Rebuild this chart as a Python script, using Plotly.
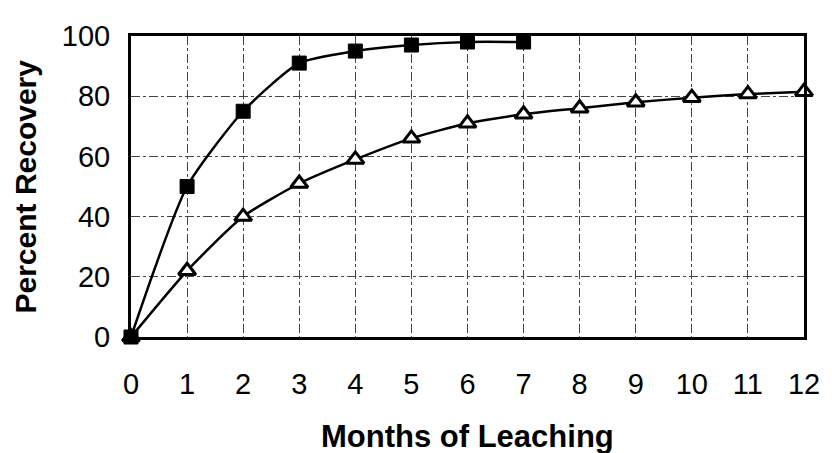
import plotly.graph_objects as go

months_sq = [0, 1, 2, 3, 4, 5, 6, 7]
recovery_sq = [0, 50, 75, 91, 95, 97, 98, 98]
months_tri = [0, 1, 2, 3, 4, 5, 6, 7, 8, 9, 10, 11, 12]
recovery_tri = [0, 22, 40, 51, 59, 66, 71, 74, 76, 78, 79.5, 80.7, 81.5]
x_ticks = list(range(0, 13))
y_ticks = [0, 20, 40, 60, 80, 100]

fig = go.Figure()
fig.add_trace(go.Scatter(
    x=months_tri, y=recovery_tri, mode="lines+markers",
    line=dict(color="black", width=2.5, shape="spline", smoothing=0.6),
    marker=dict(symbol="triangle-up", size=15, color="white",
                line=dict(color="black", width=3)),
    cliponaxis=False, showlegend=False))
fig.add_trace(go.Scatter(
    x=months_sq, y=recovery_sq, mode="lines+markers",
    line=dict(color="black", width=2.5, shape="spline", smoothing=0.6),
    marker=dict(symbol="square", size=14, color="black",
                line=dict(color="black", width=1)),
    cliponaxis=False, showlegend=False))

font = "Liberation Sans, Arial, sans-serif"
# page body keeps its default 8px margin, so the figure is offset by 8px
fig.update_layout(
    width=824, height=445,
    margin=dict(l=123, r=20, t=17, b=116),
    paper_bgcolor="white", plot_bgcolor="white",
    font=dict(family=font, color="black", size=29),
    xaxis=dict(range=[0, 12], tickvals=x_ticks, showgrid=True,
               gridcolor="#444444", griddash="dashdot", gridwidth=1,
               showline=True, linecolor="black", linewidth=3, mirror=True,
               ticks="", ticklabelstandoff=19, zeroline=False,
               tickfont=dict(size=29)),
    yaxis=dict(range=[0, 100], tickvals=y_ticks, showgrid=True,
               gridcolor="#444444", griddash="dashdot", gridwidth=1,
               showline=True, linecolor="black", linewidth=3, mirror=True,
               ticks="", ticklabelstandoff=12, zeroline=False,
               tickfont=dict(size=29)),
    annotations=[
        dict(text="<b>Months of Leaching</b>", xref="paper", yref="paper",
             x=0.5, y=0, yshift=-99, xanchor="center", yanchor="middle",
             showarrow=False, font=dict(size=31, family=font)),
        dict(text="<b>Percent Recovery</b>", xref="paper", yref="paper",
             x=0, xshift=-106, y=0.5, yshift=0, xanchor="center",
             yanchor="middle", textangle=-90, showarrow=False,
             font=dict(size=30, family=font)),
    ],
)
fig.write_html("out.html", config={"displayModeBar": False})
